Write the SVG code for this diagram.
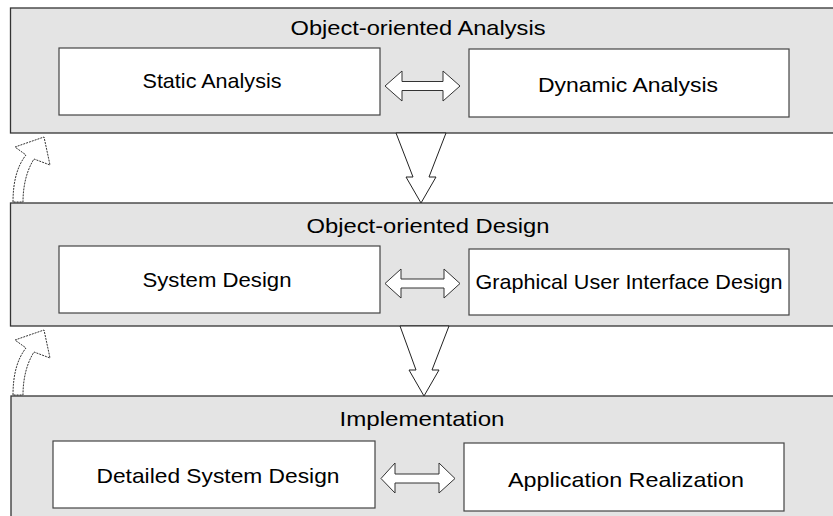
<svg xmlns="http://www.w3.org/2000/svg" width="833" height="516" viewBox="0 0 833 516">
  <style>
    .panel { fill: #e4e4e4; stroke: #333; stroke-width: 1.3; }
    .box { fill: #fff; stroke: #444; stroke-width: 1.2; }
    text { font-family: "Liberation Sans", Arial, sans-serif; font-size: 21px; fill: #000; text-anchor: middle; }
    .dbl { fill: #fff; stroke: #333; stroke-width: 1; }
    .down { fill: #fff; stroke: #222; stroke-width: 1; }
    .back { fill: #fff; stroke: #333; stroke-width: 1; stroke-dasharray: 2 1; }
  </style>

  <!-- stage panels and their activities -->
  <g id="analysis">
    <rect class="panel" x="10.5" y="8" width="840" height="125"/>
    <text x="418" y="35" textLength="255" lengthAdjust="spacingAndGlyphs">Object-oriented Analysis</text>
  </g>
  <g id="static-analysis">
    <rect class="box" x="59" y="48" width="321" height="67"/>
    <text x="212" y="88" textLength="139" lengthAdjust="spacingAndGlyphs">Static Analysis</text>
  </g>
  <g id="dynamic-analysis">
    <rect class="box" x="469" y="49" width="320" height="68"/>
    <text x="628" y="92" textLength="180" lengthAdjust="spacingAndGlyphs">Dynamic Analysis</text>
  </g>

  <g id="design">
    <rect class="panel" x="10.5" y="203" width="840" height="123"/>
    <text x="428" y="233" textLength="243" lengthAdjust="spacingAndGlyphs">Object-oriented Design</text>
  </g>
  <g id="system-design">
    <rect class="box" x="59" y="246" width="321" height="67"/>
    <text x="217" y="287" textLength="149" lengthAdjust="spacingAndGlyphs">System Design</text>
  </g>
  <g id="gui-design">
    <rect class="box" x="469" y="249" width="320" height="66"/>
    <text x="629" y="289" textLength="307" lengthAdjust="spacingAndGlyphs">Graphical User Interface Design</text>
  </g>

  <g id="implementation">
    <rect class="panel" x="11" y="396" width="840" height="130"/>
    <text x="422" y="426" textLength="165" lengthAdjust="spacingAndGlyphs">Implementation</text>
  </g>
  <g id="detailed-design">
    <rect class="box" x="53" y="441" width="322" height="67"/>
    <text x="218" y="483" textLength="243" lengthAdjust="spacingAndGlyphs">Detailed System Design</text>
  </g>
  <g id="realization">
    <rect class="box" x="464" y="443" width="320" height="68"/>
    <text x="626" y="487" textLength="236" lengthAdjust="spacingAndGlyphs">Application Realization</text>
  </g>

  <!-- connectors -->
  <g id="connectors">
    <!-- two-way arrows between sibling activities -->
    <path class="dbl" d="M385,86 L402,71 L402,81.5 L443,81.5 L443,71 L460,86 L443,101 L443,90.5 L402,90.5 L402,101 Z"/>
    <path class="dbl" d="M385,283.5 L401,269 L401,279 L444,279 L444,269 L460,283.5 L444,298 L444,288 L401,288 L401,298 Z"/>
    <path class="dbl" d="M381,478.5 L395,463 L395,474 L439,474 L439,463 L455,478.5 L439,493 L439,483 L395,483 L395,493 Z"/>

    <!-- flow down to the next stage -->
    <path class="down" d="M396,133 L446,133 L429,177 L436,177 L421,203 L406,177 L413,177 Z"/>
    <path class="down" d="M400,326 L449,326 L432,370 L439,370 L424,396 L409,370 L416,370 Z"/>

    <!-- iteration back to the previous stage -->
    <path class="back" d="M13,202 C13,180 18,165 26,155 L15,147 L44,137 L50,165 L34,159 C27,170 23,185 23,202 Z"/>
    <path class="back" d="M13,395 C13,373 18,358 26,348 L15,340 L44,330 L50,358 L34,352 C27,363 23,378 23,395 Z"/>
  </g>
</svg>
